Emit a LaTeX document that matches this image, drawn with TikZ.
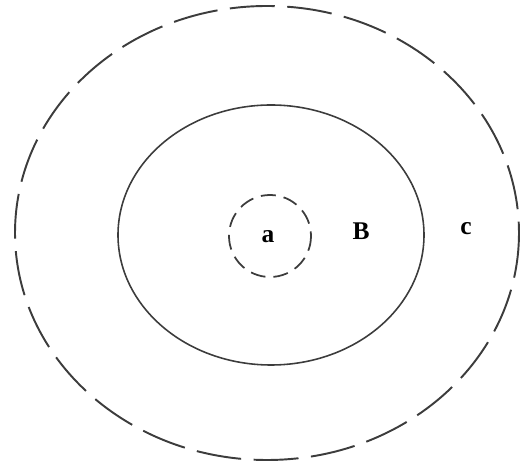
\documentclass[tikz,border=0pt]{standalone}
\usepackage{fontspec}
\setmainfont{Liberation Serif}
\usepackage{tikz}
\usepackage{xcolor}
\definecolor{inkgray}{RGB}{60,60,60}
\tikzset{
  zonelabel/.style={font=\fontsize{14.5}{16}\selectfont\bfseries,text=black,inner sep=0pt},
  longdash/.style={draw=inkgray,line width=1.1pt,dash pattern=on 0.9cm off 0.25cm},
  shortdash/.style={draw=inkgray,line width=1pt,dash pattern=on 0.3cm off 0.16cm}
}
\begin{document}
\begin{tikzpicture}[x=0.02cm,y=-0.02cm]
\useasboundingbox (0,0) rectangle (521,465);
\draw[longdash] (267,233) ellipse[x radius=252,y radius=227];
\draw[draw=inkgray,line width=0.9pt] (271,235) ellipse[x radius=153,y radius=130];
\draw[shortdash] (270,236) circle[radius=41];
\node[zonelabel] (a) at (268,237) {a};
\node[zonelabel] (b) at (361,231) {B};
\node[zonelabel] (c) at (466,229) {c};
\end{tikzpicture}
\end{document}
